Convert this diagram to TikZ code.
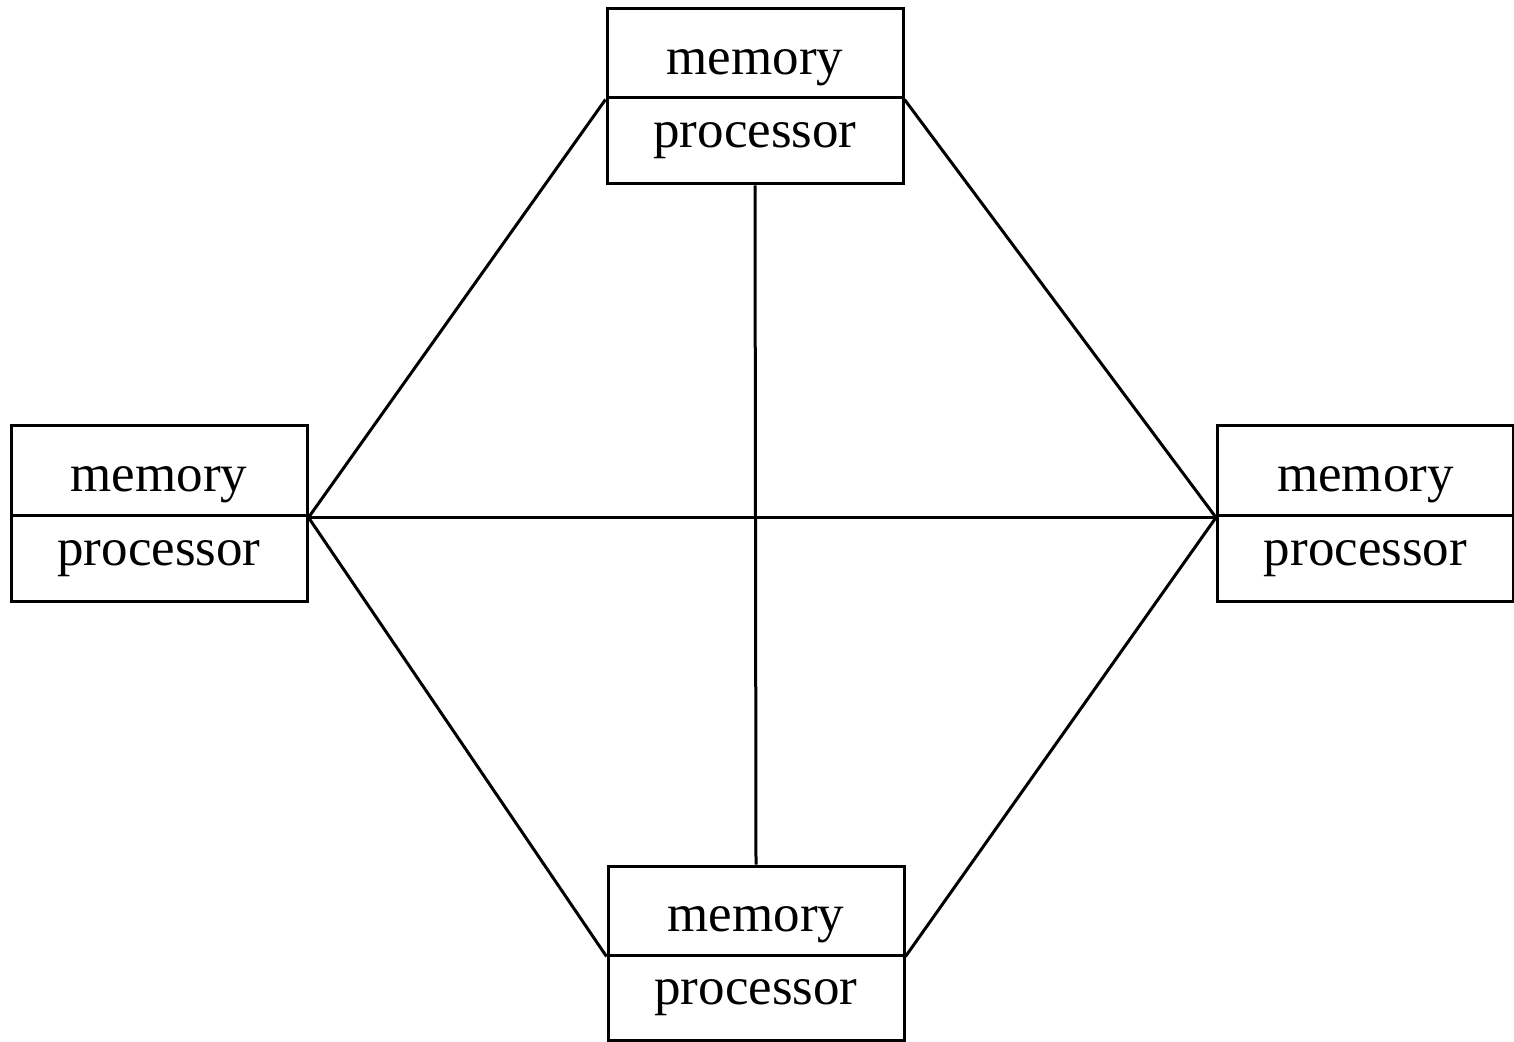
\documentclass[tikz,border=0pt]{standalone}
\usepackage{fontspec}
\setmainfont{Liberation Serif}
\begin{document}
\begin{tikzpicture}[x=0.5pt,y=-0.5pt,
  cell/.style={draw, line width=1.5pt, inner sep=0pt, minimum width=148pt, font=\fontsize{26.5}{30}\selectfont},
  memrow/.style={cell, text height=21pt, text depth=0pt},
  procrow/.style={cell, text height=14pt, text depth=7pt},
  link/.style={line width=1.5pt}]
\useasboundingbox (0,0) rectangle (1514,1042);
% top
\node[memrow, minimum height=44.5pt] (tm) at (755,53.5) {memory};
\node[procrow, minimum height=43pt] (tp) at (755,141) {processor};
% left
\node[memrow, minimum height=45pt] (lm) at (159,471) {memory};
\node[procrow, minimum height=42.5pt] (lp) at (159,558.5) {processor};
% right
\node[memrow, minimum height=45pt] (rm) at (1365.5,471) {memory};
\node[procrow, minimum height=42.5pt] (rp) at (1365.5,558.5) {processor};
% bottom
\node[memrow, minimum height=44.5pt] (bm) at (756,910.5) {memory};
\node[procrow, minimum height=42.5pt] (bp) at (756,997.5) {processor};
% links
\draw[link] (tm.south west) -- (lm.south east);
\draw[link] (tm.south east) -- (rm.south west);
\draw[link] (tp.south) -- (bm.north);
\draw[link] (lm.south east) -- (rm.south west);
\draw[link] (lm.south east) -- (bm.south west);
\draw[link] (rm.south west) -- (bm.south east);
\end{tikzpicture}
\end{document}
